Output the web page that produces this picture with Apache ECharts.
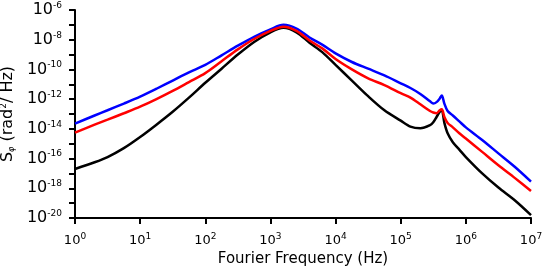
<!DOCTYPE html>
<html>
<head>
<meta charset="utf-8">
<script src="https://cdn.jsdelivr.net/npm/echarts@6/dist/echarts.min.js"></script>
<style>html,body{margin:0;padding:0;background:#fff}#c{width:543px;height:268px}</style>
</head>
<body>
<div id="c"></div>
<script>
// Fourier frequency (Hz)
var freq = [1, 2, 3.16, 5.62, 10, 17.8, 31.6, 56.2, 100, 178, 316, 562, 1000, 1585, 2512, 3981, 6310,
  1e4, 1.78e4, 3.16e4, 5.62e4, 1e5, 1.41e5, 2e5, 2.82e5, 3.16e5, 3.55e5, 3.98e5, 4.27e5, 4.68e5,
  5.25e5, 6.31e5, 7.94e5, 1e6, 1.78e6, 3.16e6, 5.62e6, 1e7];
// S_phi (rad^2/Hz)
var blueS = [2.24e-14, 7.94e-14, 1.78e-13, 5.01e-13, 1.48e-12, 5.01e-12, 1.78e-11, 6.31e-11, 2.0e-10,
  8.91e-10, 3.98e-9, 1.58e-8, 5.01e-8, 1.0e-7, 5.62e-8, 1.41e-8, 4.47e-9, 1.2e-9, 3.16e-10, 1.12e-10,
  3.98e-11, 1.17e-11, 5.62e-12, 2.24e-12, 7.08e-13, 5.01e-13, 6.31e-13, 1.12e-12, 1.78e-12, 5.01e-13,
  1.58e-13, 7.94e-14, 3.16e-14, 1.26e-14, 1.78e-15, 2.24e-16, 2.82e-17, 2.82e-18];
var redS = [5.62e-15, 1.91e-14, 4.17e-14, 1.12e-13, 3.09e-13, 1.0e-12, 3.55e-12, 1.41e-11, 5.62e-11,
  3.55e-10, 2.24e-9, 1.12e-8, 3.98e-8, 7.59e-8, 3.98e-8, 8.91e-9, 2.51e-9, 5.01e-10, 1.0e-10, 2.51e-11,
  8.91e-12, 2.51e-12, 1.26e-12, 4.47e-13, 1.58e-13, 1.26e-13, 1.12e-13, 1.78e-13, 2.09e-13, 6.31e-14,
  2.51e-14, 1.26e-14, 5.01e-15, 2.24e-15, 2.82e-16, 3.55e-17, 5.01e-18, 6.61e-19];
var blackS = [2.0e-17, 5.62e-17, 1.26e-16, 5.01e-16, 2.82e-15, 1.91e-14, 1.41e-13, 1.26e-12, 1.26e-11,
  1.12e-10, 1.0e-9, 7.08e-9, 3.16e-8, 6.31e-8, 3.16e-8, 6.31e-9, 1.41e-9, 2.0e-10, 1.78e-11, 1.58e-12,
  1.78e-13, 3.55e-14, 1.41e-14, 1.1e-14, 1.78e-14, 2.82e-14, 6.31e-14, 1.41e-13, 1.78e-13, 2.51e-14,
  5.01e-15, 1.26e-15, 3.98e-16, 1.26e-16, 1.0e-17, 1.12e-18, 1.58e-19, 1.58e-20];
// tick label exponents
var xTickExp = [0, 1, 2, 3, 4, 5, 6, 7];
var yTickExp = [-20, -18, -16, -14, -12, -10, -8, -6];

function pairs(ys) { return freq.map(function (f, i) { return [f, ys[i]]; }); }
function expOf(v) { return Math.round(Math.log(v) / Math.LN10); }

var FONT = 'DejaVu Sans';
var chart = echarts.init(document.getElementById('c'), null, {renderer: 'canvas'});
chart.setOption({
  animation: false,
  backgroundColor: '#fff',
  grid: {left: 75, right: 12, top: 10, bottom: 50, containLabel: false, outerBoundsMode: 'none'},
  xAxis: {
    type: 'log', logBase: 10, min: 1, max: 1e7, interval: 1,
    name: 'Fourier Frequency (Hz)', nameLocation: 'middle', nameGap: 33,
    nameTextStyle: {fontFamily: FONT, fontSize: 15, color: '#000'},
    axisLine: {lineStyle: {color: '#000', width: 2}},
    axisTick: {inside: false, length: 6, lineStyle: {color: '#000', width: 2}},
    splitLine: {show: false},
    axisLabel: {
      margin: 14, color: '#000', fontFamily: FONT,
      formatter: function (v) {
        var e = expOf(v);
        return xTickExp.indexOf(e) >= 0 ? '{b|10}{s|' + e + '}' : '';
      },
      rich: {
        b: {fontFamily: FONT, fontSize: 13, color: '#000'},
        s: {fontFamily: FONT, fontSize: 9, color: '#000', verticalAlign: 'top', padding: [0, 0, 8, 0]}
      }
    }
  },
  yAxis: {
    type: 'log', logBase: 10, min: 1e-20, max: 1e-6, interval: 1,
    name: '{s|S}{sub|φ}{n| (rad}{sup|2}{n|/ Hz)}', nameLocation: 'middle', nameGap: 55,
    nameTextStyle: {
      fontFamily: FONT, fontSize: 16, color: '#000',
      rich: {
        s: {fontFamily: FONT, fontSize: 16, color: '#000'},
        sub: {fontFamily: FONT, fontSize: 8, fontStyle: 'italic', color: '#000', padding: [7, 0, 0, 0]},
        n: {fontFamily: FONT, fontSize: 16, color: '#000'},
        sup: {fontFamily: FONT, fontSize: 9, color: '#000', padding: [0, 0, 9, 0]}
      }
    },
    axisLine: {lineStyle: {color: '#000', width: 2}},
    axisTick: {inside: false, length: 6, interval: 0, lineStyle: {color: '#000', width: 2}},
    splitLine: {show: false},
    axisLabel: {
      margin: 13, color: '#000', interval: 1,
      formatter: function (v) {
        var e = expOf(v);
        return yTickExp.indexOf(e) >= 0 ? '{b|10}{s|' + e + '}' : '';
      },
      rich: {
        b: {fontFamily: FONT, fontSize: 16, color: '#000'},
        s: {fontFamily: FONT, fontSize: 9, color: '#000', verticalAlign: 'top', padding: [0, 0, 9, 0]}
      }
    }
  },
  series: [
    {type: 'line', data: pairs(blueS), showSymbol: false, smooth: 0.3, lineStyle: {color: '#0000ff', width: 2.5}, z: 2},
    {type: 'line', data: pairs(blackS), showSymbol: false, smooth: 0.3, lineStyle: {color: '#000000', width: 2.5}, z: 3},
    {type: 'line', data: pairs(redS), showSymbol: false, smooth: 0.3, lineStyle: {color: '#ff0000', width: 2.5}, z: 4}
  ]
});
</script>
</body>
</html>
